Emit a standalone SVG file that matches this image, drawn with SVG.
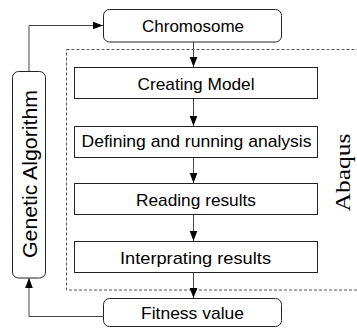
<svg xmlns="http://www.w3.org/2000/svg" width="357" height="328" viewBox="0 0 357 328">
<style>
.box{fill:#fff;stroke:#222;stroke-width:1}
.t{font-family:"Liberation Sans",Arial,sans-serif;font-size:17px;fill:#000;text-anchor:middle}
.c{fill:none;stroke:#444;stroke-width:1}
</style>
<defs>
<marker id="ah" markerWidth="10" markerHeight="13" refX="13" refY="5" orient="auto" markerUnits="userSpaceOnUse" viewBox="0 0 13 10">
<path d="M0,0 L13,5 L0,10 Z" fill="#000"/>
</marker>
</defs>
<rect x="66.5" y="49.5" width="300" height="240.5" fill="none" stroke="#555" stroke-width="1" stroke-dasharray="3,2"/>
<g id="connectors">
<path class="c" d="M29,71 V25.5 H103" marker-end="url(#ah)"/>
<path class="c" d="M193.5,42 V67" marker-end="url(#ah)"/>
<path class="c" d="M193.5,99 V126" marker-end="url(#ah)"/>
<path class="c" d="M193.5,158 V183" marker-end="url(#ah)"/>
<path class="c" d="M193.5,215 V241" marker-end="url(#ah)"/>
<path class="c" d="M193.5,273 V298" marker-end="url(#ah)"/>
<path class="c" d="M103,316.5 H29 V278" marker-end="url(#ah)"/>
</g>
<g id="chromosome">
<rect class="box" x="103.5" y="9.5" width="178" height="32.5" rx="6"/>
<text class="t" x="193" y="32" textLength="102" lengthAdjust="spacingAndGlyphs">Chromosome</text>
</g>
<g id="creating">
<rect class="box" x="74.5" y="67.5" width="243" height="31"/>
<text class="t" x="196" y="90" textLength="117" lengthAdjust="spacingAndGlyphs">Creating Model</text>
</g>
<g id="defining">
<rect class="box" x="74.5" y="126.5" width="243" height="31"/>
<text class="t" x="196.5" y="147" textLength="230" lengthAdjust="spacingAndGlyphs">Defining and running analysis</text>
</g>
<g id="reading">
<rect class="box" x="74.5" y="183.5" width="243" height="31"/>
<text class="t" x="196" y="206" textLength="120" lengthAdjust="spacingAndGlyphs">Reading results</text>
</g>
<g id="interprating">
<rect class="box" x="74.5" y="241.5" width="243" height="31"/>
<text class="t" x="195.5" y="263.5" textLength="151" lengthAdjust="spacingAndGlyphs">Interprating results</text>
</g>
<g id="fitness">
<rect class="box" x="103.5" y="298.5" width="178" height="28" rx="6"/>
<text class="t" x="192.5" y="318.5" textLength="103" lengthAdjust="spacingAndGlyphs">Fitness value</text>
</g>
<g id="ga">
<rect class="box" x="12.5" y="71.5" width="33" height="206.5" rx="6"/>
<text class="t" transform="translate(36.5,174) rotate(-90)" x="0" y="0" style="font-size:20px" textLength="168" lengthAdjust="spacingAndGlyphs">Genetic Algorithm</text>
</g>
<g id="abaqus">
<text transform="translate(350,172.5) rotate(-90)" x="0" y="0" text-anchor="middle" font-family="'Liberation Serif','Times New Roman',serif" font-size="20" textLength="78" lengthAdjust="spacingAndGlyphs" fill="#000">Abaqus</text>
</g>
</svg>
